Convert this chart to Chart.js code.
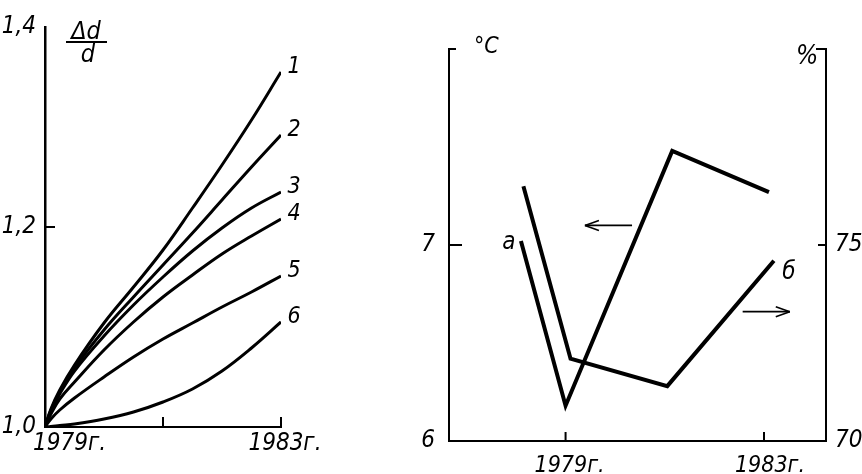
<!DOCTYPE html>
<html>
<head>
<meta charset="utf-8">
<script src="https://cdn.jsdelivr.net/npm/chart.js@4.4.1/dist/chart.umd.min.js"></script>
<style>
  html, body { margin: 0; padding: 0; background: #fff; }
  #wrap { position: relative; width: 862px; height: 474px; overflow: hidden; }
  #growthChart { position: absolute; left: 0; top: 0; }
  #tempChart { position: absolute; left: 420px; top: 0; }
</style>
</head>
<body>
<div id="wrap">
  <canvas id="growthChart" width="420" height="474"></canvas>
  <canvas id="tempChart" width="442" height="474"></canvas>
</div>
<script>
// left panel: relative growth, curves 1..6
var growthYears = [1979, 1979.1, 1979.25, 1979.5, 1980, 1980.5, 1981, 1981.5, 1982, 1982.5, 1983];
var curve1 = [1.0, 1.018, 1.037, 1.062, 1.104, 1.140, 1.177, 1.219, 1.262, 1.307, 1.355];
var curve2 = [1.0, 1.017, 1.035, 1.059, 1.097, 1.130, 1.162, 1.194, 1.227, 1.260, 1.292];
var curve3 = [1.0, 1.016, 1.033, 1.056, 1.091, 1.122, 1.150, 1.176, 1.199, 1.219, 1.235];
var curve4 = [1.0, 1.013, 1.028, 1.045, 1.077, 1.105, 1.130, 1.152, 1.173, 1.191, 1.208];
var curve5 = [1.0, 1.008, 1.017, 1.029, 1.050, 1.070, 1.088, 1.104, 1.120, 1.135, 1.151];
var curve6 = [1.0, 1.0005, 1.0015, 1.003, 1.008, 1.015, 1.025, 1.038, 1.056, 1.079, 1.105];
var curveNames = ['1', '2', '3', '4', '5', '6'];

// right panel: a - °C (left axis), б - % (right axis)
var tempYears = [1978.1, 1979.0, 1981.15, 1983.1];
var tempValues = [7.02, 6.18, 7.48, 7.27];
var shareYears = [1978.15, 1979.1, 1981.05, 1983.2];
var shareValues = [76.5, 72.1, 71.4, 74.6];

var yearLabels = ['1979г.', '1983г.'];

var FAMILY = '"Liberation Sans Narrow", "DejaVu Sans Condensed", "Liberation Sans", sans-serif';
function font(size) { return 'italic ' + size + 'px ' + FAMILY; }

function points(xs, ys) {
  return xs.map(function (x, i) { return { x: x, y: ys[i] }; });
}

function line(ctx, x1, y1, x2, y2) {
  ctx.beginPath();
  ctx.moveTo(x1, y1);
  ctx.lineTo(x2, y2);
  ctx.stroke();
}

var growthDecor = {
  id: 'growthDecor',
  afterDraw: function (chart) {
    var ctx = chart.ctx, x = chart.scales.x, y = chart.scales.y;
    ctx.save();
    ctx.strokeStyle = '#000';
    ctx.fillStyle = '#000';
    ctx.lineWidth = 2;
    // inward tick marks
    [1981, 1983].forEach(function (v) {
      var px = x.getPixelForValue(v);
      line(ctx, px, y.bottom, px, y.bottom - 10);
    });
    var py = y.getPixelForValue(1.2);
    line(ctx, x.left, py, x.left + 10, py);

    // year labels
    ctx.font = font(24);
    ctx.textBaseline = 'alphabetic';
    ctx.textAlign = 'left';
    ctx.fillText(yearLabels[0], x.getPixelForValue(1979) - 12, y.bottom + 23);
    ctx.textAlign = 'center';
    ctx.fillText(yearLabels[1], x.getPixelForValue(1983) + 4, y.bottom + 23);

    // curve numbers
    ctx.font = font(23);
    ctx.textBaseline = 'middle';
    chart.data.datasets.forEach(function (ds, i) {
      var meta = chart.getDatasetMeta(i);
      var pt = meta.data[meta.data.length - 1];
      ctx.fillText(curveNames[i], pt.x + 13, pt.y - 5);
    });

    // axis title  Δd / d
    ctx.font = font(25);
    ctx.textBaseline = 'alphabetic';
    ctx.fillText('Δd', 86, 39);
    ctx.fillText('d', 88, 62);
    ctx.lineWidth = 2;
    line(ctx, 66, 42, 107, 42);
    ctx.restore();
  }
};

function growthSet(data) {
  return {
    data: points(growthYears, data),
    borderColor: '#000',
    borderWidth: 3,
    pointRadius: 0,
    fill: false,
    tension: 0.4
  };
}

new Chart(document.getElementById('growthChart').getContext('2d'), {
  type: 'line',
  data: {
    datasets: [growthSet(curve1), growthSet(curve2), growthSet(curve3),
               growthSet(curve4), growthSet(curve5), growthSet(curve6)]
  },
  options: {
    responsive: false,
    animation: false,
    layout: { padding: { top: 27, right: 139, bottom: 0, left: 0 } },
    plugins: { legend: { display: false }, tooltip: { enabled: false } },
    scales: {
      x: {
        type: 'linear',
        min: 1979,
        max: 1983,
        ticks: { display: false },
        grid: { display: false, drawTicks: false },
        border: { color: '#000', width: 2 },
        afterFit: function (s) { s.height = 47; }
      },
      y: {
        min: 1.0,
        max: 1.4,
        ticks: {
          stepSize: 0.2,
          padding: 9,
          color: '#000',
          font: { family: FAMILY, size: 24, style: 'italic' },
          callback: function (v) { return v.toFixed(1).replace('.', ','); }
        },
        grid: { display: false, drawTicks: false },
        border: { color: '#000', width: 2.5 },
        afterFit: function (s) { s.width = 45; }
      }
    }
  },
  plugins: [growthDecor]
});

function arrow(ctx, x1, y1, x2, y2) {
  var dir = x2 > x1 ? 1 : -1;
  line(ctx, x1, y1, x2, y2);
  line(ctx, x2, y2, x2 - dir * 14, y2 - 5);
  line(ctx, x2, y2, x2 - dir * 14, y2 + 5);
}

var tempDecor = {
  id: 'tempDecor',
  afterDraw: function (chart) {
    var ctx = chart.ctx, x = chart.scales.x, y = chart.scales.y, y1 = chart.scales.y1;
    ctx.save();
    ctx.strokeStyle = '#000';
    ctx.fillStyle = '#000';
    ctx.lineWidth = 2;
    // inward tick marks
    [1979, 1983].forEach(function (v) {
      var px = x.getPixelForValue(v);
      line(ctx, px, y.bottom, px, y.bottom - 9);
    });
    line(ctx, x.left, y.getPixelForValue(7), x.left + 13, y.getPixelForValue(7));
    line(ctx, x.left, y.getPixelForValue(8), x.left + 7, y.getPixelForValue(8));
    line(ctx, x.right, y1.getPixelForValue(75), x.right - 8, y1.getPixelForValue(75));
    line(ctx, x.right, y1.getPixelForValue(80), x.right - 10, y1.getPixelForValue(80));

    // units
    ctx.font = font(23);
    ctx.textBaseline = 'alphabetic';
    ctx.textAlign = 'left';
    ctx.fillText('°C', x.left + 25, 53);
    ctx.textAlign = 'center';
    ctx.font = font(26);
    ctx.fillText('%', x.right - 19, 64);

    // year labels
    ctx.font = font(23);
    ctx.fillText(yearLabels[0], x.getPixelForValue(1979) + 4, y.bottom + 31);
    ctx.fillText(yearLabels[1], x.getPixelForValue(1983) + 6, y.bottom + 31);

    // series labels
    ctx.font = font(24);
    var a = chart.getDatasetMeta(0).data[0];
    ctx.fillText('а', a.x - 12, a.y + 8);
    var bData = chart.getDatasetMeta(1).data;
    var b = bData[bData.length - 1];
    ctx.fillText('б', b.x + 15, b.y + 18);

    // arrows to the axes
    ctx.lineWidth = 1.6;
    arrow(ctx, x.getPixelForValue(1980.34), y.getPixelForValue(7.1),
      x.getPixelForValue(1979.39), y.getPixelForValue(7.1));
    arrow(ctx, x.getPixelForValue(1982.57), y1.getPixelForValue(73.3),
      x.getPixelForValue(1983.52), y1.getPixelForValue(73.3));
    ctx.restore();
  }
};

var tickFont = { family: FAMILY, size: 24, style: 'italic' };

new Chart(document.getElementById('tempChart').getContext('2d'), {
  type: 'line',
  data: {
    datasets: [{
      data: points(tempYears, tempValues),
      yAxisID: 'y',
      borderColor: '#000',
      borderWidth: 4,
      borderJoinStyle: 'miter',
      pointRadius: 0,
      tension: 0
    }, {
      data: points(shareYears, shareValues),
      yAxisID: 'y1',
      borderColor: '#000',
      borderWidth: 4,
      borderJoinStyle: 'miter',
      pointRadius: 0,
      tension: 0
    }]
  },
  options: {
    responsive: false,
    animation: false,
    layout: { padding: { top: 49, right: 0, bottom: 0, left: 0 } },
    plugins: { legend: { display: false }, tooltip: { enabled: false } },
    scales: {
      x: {
        type: 'linear',
        min: 1976.65,
        max: 1984.25,
        ticks: { display: false },
        grid: { display: false, drawTicks: false },
        border: { color: '#000', width: 2 },
        afterFit: function (s) { s.height = 33; }
      },
      y: {
        position: 'left',
        min: 6,
        max: 8,
        ticks: {
          stepSize: 1,
          padding: 14,
          color: '#000',
          font: tickFont,
          callback: function (v) { return v === 8 ? '' : String(v); }
        },
        grid: { display: false, drawTicks: false },
        border: { color: '#000', width: 2 },
        afterFit: function (s) { s.width = 29; }
      },
      y1: {
        position: 'right',
        min: 70,
        max: 80,
        ticks: {
          stepSize: 5,
          padding: 9,
          color: '#000',
          font: tickFont,
          callback: function (v) { return v === 80 ? '' : String(v); }
        },
        grid: { display: false, drawTicks: false },
        border: { color: '#000', width: 2 },
        afterFit: function (s) { s.width = 36; }
      }
    }
  },
  plugins: [tempDecor]
});
</script>
</body>
</html>
